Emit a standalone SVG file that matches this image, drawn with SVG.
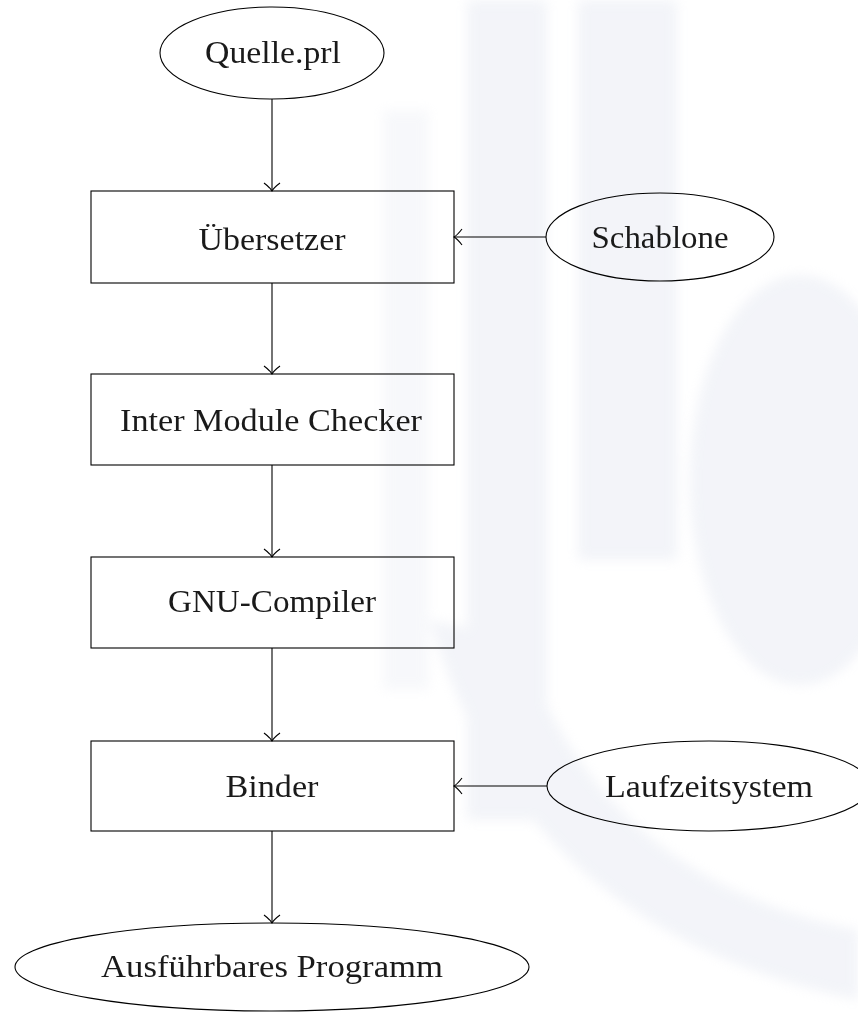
<svg xmlns="http://www.w3.org/2000/svg" width="858" height="1012" viewBox="0 0 858 1012">
<style>
.shape{fill:none;stroke:#000;stroke-width:1.1}
.lbl{font-family:"Liberation Serif","Times New Roman",serif;font-size:32px;fill:#1a1a1a;text-anchor:middle}
.edge{fill:none;stroke:#000;stroke-width:1.1}
.wm{fill:#d6dbea;stroke:none}
</style>
<defs>
<marker id="to" markerUnits="userSpaceOnUse" markerWidth="20" markerHeight="20" refX="16" refY="10" orient="auto" viewBox="0 0 20 20">
<path d="M8 2 Q12.5 8 16 10 Q12.5 12 8 18" fill="none" stroke="#000" stroke-width="1.1"/>
</marker>
<filter id="soft" x="-10%" y="-10%" width="120%" height="120%">
<feGaussianBlur stdDeviation="6"/>
</filter>
</defs>
<rect width="858" height="1012" fill="#fff"/>
<g id="watermark" opacity="0.3" filter="url(#soft)">
<rect class="wm" x="383" y="110" width="46" height="580" opacity="0.6"/>
<rect class="wm" x="467" y="0" width="80" height="820"/>
<rect class="wm" x="578" y="0" width="99" height="560"/>
<ellipse class="wm" cx="800" cy="480" rx="110" ry="205"/>
<path d="M430 620 Q520 930 858 1000 L858 930 Q600 880 520 640 Z" class="wm"/>
</g>
<g id="connectors">
<line class="edge" x1="272" y1="99" x2="272" y2="191" marker-end="url(#to)"/>
<line class="edge" x1="546" y1="237" x2="454" y2="237" marker-end="url(#to)"/>
<line class="edge" x1="272" y1="283" x2="272" y2="374" marker-end="url(#to)"/>
<line class="edge" x1="272" y1="465" x2="272" y2="557" marker-end="url(#to)"/>
<line class="edge" x1="272" y1="648" x2="272" y2="741" marker-end="url(#to)"/>
<line class="edge" x1="547" y1="786" x2="454" y2="786" marker-end="url(#to)"/>
<line class="edge" x1="272" y1="831" x2="272" y2="923" marker-end="url(#to)"/>
</g>
<g id="quelle">
<ellipse class="shape" cx="272" cy="53" rx="112" ry="46"/>
<text class="lbl" x="273" y="63" textLength="136" lengthAdjust="spacingAndGlyphs">Quelle.prl</text>
</g>
<g id="uebersetzer">
<rect class="shape" x="91" y="191" width="363" height="92"/>
<text class="lbl" x="272" y="250" textLength="147" lengthAdjust="spacingAndGlyphs">Übersetzer</text>
</g>
<g id="schablone">
<ellipse class="shape" cx="660" cy="237" rx="114" ry="44"/>
<text class="lbl" x="660" y="248" textLength="137" lengthAdjust="spacingAndGlyphs">Schablone</text>
</g>
<g id="imc">
<rect class="shape" x="91" y="374" width="363" height="91"/>
<text class="lbl" x="271" y="431" textLength="302" lengthAdjust="spacingAndGlyphs">Inter Module Checker</text>
</g>
<g id="gnu">
<rect class="shape" x="91" y="557" width="363" height="91"/>
<text class="lbl" x="272" y="612" textLength="208" lengthAdjust="spacingAndGlyphs">GNU-Compiler</text>
</g>
<g id="binder">
<rect class="shape" x="91" y="741" width="363" height="90"/>
<text class="lbl" x="272" y="797" textLength="93" lengthAdjust="spacingAndGlyphs">Binder</text>
</g>
<g id="laufzeitsystem">
<ellipse class="shape" cx="709" cy="786" rx="162" ry="45"/>
<text class="lbl" x="709" y="797" textLength="208" lengthAdjust="spacingAndGlyphs">Laufzeitsystem</text>
</g>
<g id="programm">
<ellipse class="shape" cx="272" cy="967" rx="257" ry="44"/>
<text class="lbl" x="272" y="977" textLength="342" lengthAdjust="spacingAndGlyphs">Ausführbares Programm</text>
</g>
</svg>
